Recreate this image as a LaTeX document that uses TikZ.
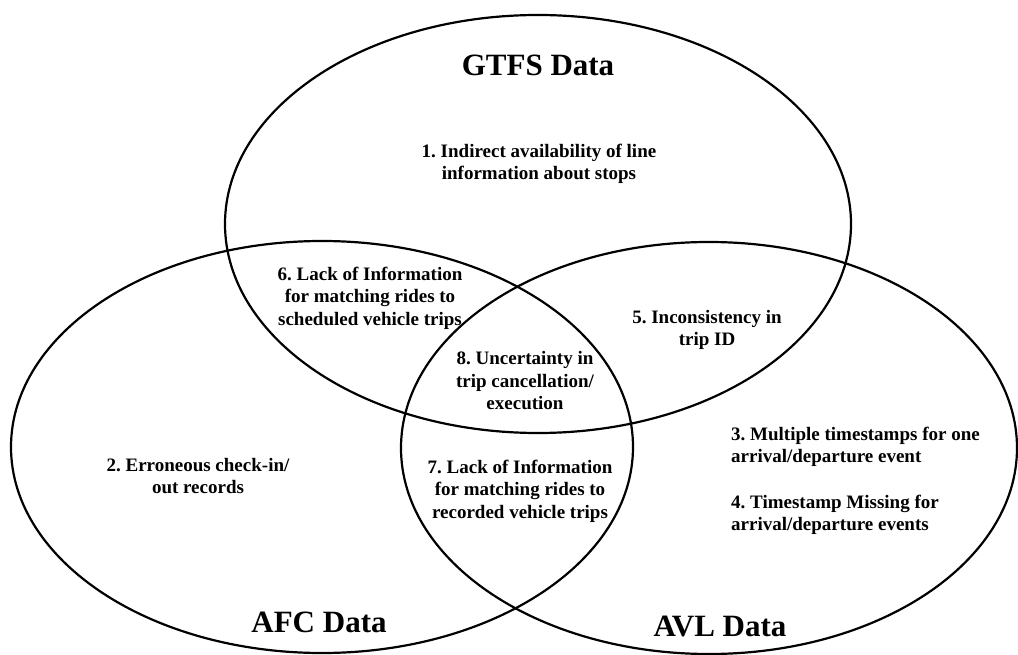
\documentclass[tikz,border=0pt]{standalone}
\usepackage{fontspec}
\setmainfont{Liberation Serif}

\tikzset{
  setline/.style={line width=2.2pt},
  settitle/.style={font=\fontsize{31}{36}\selectfont\bfseries, inner sep=0pt},
  issue/.style={font=\fontsize{19}{22.5}\selectfont\bfseries\frenchspacing, align=center, inner sep=0pt},
}

\begin{document}
\begin{tikzpicture}[x=1pt, y=-1pt]
  \useasboundingbox (0,0) rectangle (1018,655);

  % Draw the three data sets
  \draw[setline] (538,224) ellipse [x radius=313, y radius=209];
  \draw[setline] (322,447) ellipse [x radius=311, y radius=206];
  \draw[setline] (709,448) ellipse [x radius=308, y radius=206];

  % Set names
  \node[settitle] (gtfs) at (538,65) {GTFS Data};
  \node[settitle] (afc) at (319,622) {AFC Data};
  \node[settitle] (avl) at (720,626) {AVL Data};

  % Issues found in one or more sets
  \node[issue] (issue1) at (539,164) {1. Indirect availability of line\\information about stops};
  \node[issue] (issue6) at (370,298) {6. Lack of Information\\for matching rides to\\scheduled vehicle trips};
  \node[issue] (issue5) at (707,330) {5. Inconsistency in\\trip ID};
  \node[issue] (issue8) at (525,381) {8. Uncertainty in\\trip cancellation/\\execution};
  \node[issue] (issue2) at (198,476) {2. Erroneous check-in/\\out records};
  \node[issue] (issue7) at (520,491) {7. Lack of Information\\for matching rides to\\recorded vehicle trips};
  \node[issue, align=left, anchor=west] (issue3) at (731,447) {3. Multiple timestamps for one\\arrival/departure event};
  \node[issue, align=left, anchor=west] (issue4) at (731,515) {4. Timestamp Missing for\\arrival/departure events};
\end{tikzpicture}
\end{document}
